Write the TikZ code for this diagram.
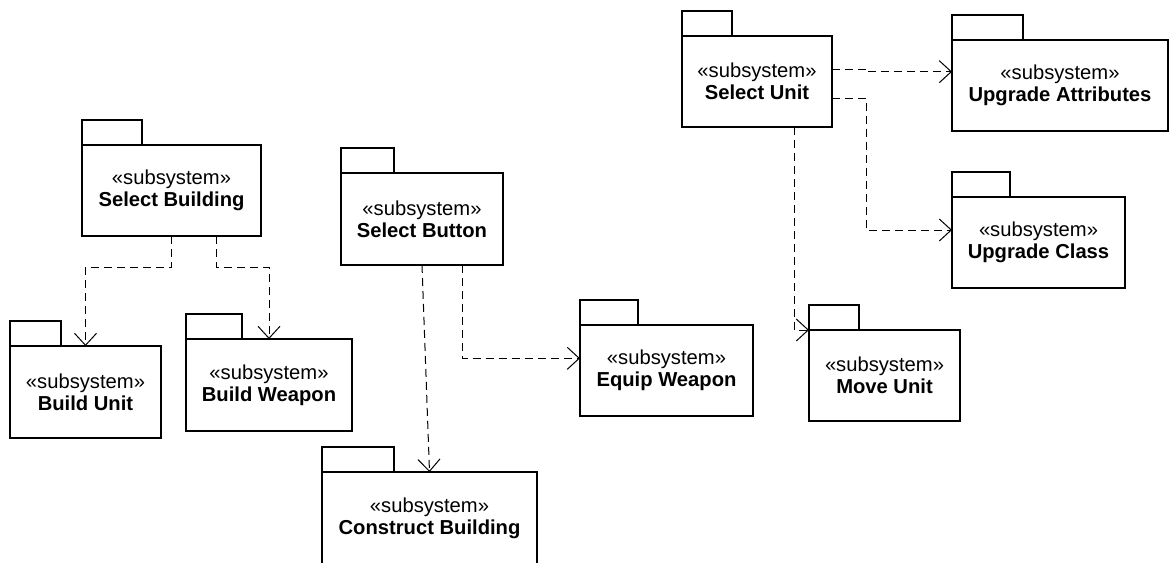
\documentclass[tikz,border=0pt]{standalone}
\usepackage{fontspec}
\setmainfont{Liberation Sans}
\usetikzlibrary{arrows.meta,positioning,calc}
\newcommand{\pkgfont}{\fontsize{10.1}{11}\selectfont}
\tikzset{
  >={Straight Barb[length=6pt,width=11pt]},
  pkg/.style={draw, line width=1pt, inner sep=0pt, outer sep=0pt,
              align=center, font=\pkgfont},
  pkgtab/.style={draw, line width=1pt, inner sep=0pt, outer sep=0pt,
              anchor=south west, minimum height=12.5pt},
  dep/.style={->, draw=black, line width=0.5pt, dash pattern=on 4pt off 2.5pt},
}

\begin{document}
\begin{tikzpicture}[x=0.5pt,y=-0.5pt]
  \useasboundingbox (0,0) rectangle (1169,563);
  % packages: name/x/y/width/height/tab width/label
  \foreach \n/\x/\y/\w/\h/\t/\lbl in {
      sbld/171.5/190.5/179/91/60/Select Building,
      bunit/85.5/392/151/92/51/Build Unit,
      bweap/269/385/166/92/56/Build Weapon,
      sbtn/422/219/162/92/53/Select Button,
      equip/666.5/370.5/173/91/58/Equip Weapon,
      cbld/429.5/518/215/92/72/Construct Building,
      sunit/757/81.5/150/91/50/Select Unit,
      uattr/1060/85.5/216/91/71/Upgrade Attributes,
      uclass/1038.5/242.5/173/91/58/Upgrade Class,
      move/884.5/375.5/151/91/50/Move Unit}{
    \node[pkg,minimum width=\w*0.5pt,minimum height=\h*0.5pt] (\n) at (\x,\y)
          {«subsystem»\\\textbf{\lbl}};
    \node[pkgtab,minimum width=\t*0.5pt] (\n-tab) at (\n.north west){};
  }
  % dependencies
  \draw[dep] (sbld.south) -- ++(0,31) -| (bunit.north);
  \draw[dep] ([xshift=22.25pt]sbld.south) -- ++(0,31) -| (bweap.north);
  \draw[dep] (sbtn.south) -- (cbld.north);
  \draw[dep] ([xshift=20pt]sbtn.south) |- ([yshift=6.1pt]equip.west);
  \draw[dep] ([yshift=6.25pt]sunit.east) -- ++(34.7,0) |- ([yshift=6.9pt]uattr.west);
  \draw[dep] ([yshift=-8.4pt]sunit.east) -- ++(34.7,0) |- ([yshift=6.25pt]uclass.west);
  \draw[dep] ([xshift=18.65pt]sunit.south) |- (move.north west);
\end{tikzpicture}
\end{document}
